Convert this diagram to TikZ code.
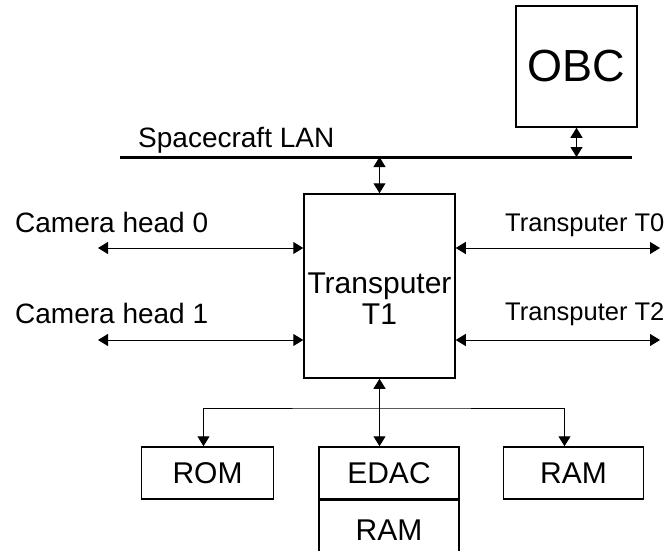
\documentclass[tikz,border=0pt]{standalone}
\usepackage{fontspec}
\setmainfont{Liberation Sans}
\usepackage{tikz}
\usetikzlibrary{positioning,arrows.meta}

\begin{document}
\begin{tikzpicture}[
  x=1pt, y=-1pt,
  font=\fontsize{30}{31}\selectfont,
  box/.style  ={draw, line width=1.5pt, inner sep=0pt, align=center,
                minimum width=140pt, minimum height=52pt},
  ar/.style   ={{Triangle[length=10pt,width=12pt]}-{Triangle[length=10pt,width=12pt]},
                line width=1pt},
  lan/.style  ={line width=3pt},
  lbl/.style  ={inner sep=0pt, anchor=base west, font=\fontsize{28}{30}\selectfont},
  lblT/.style ={lbl, font=\fontsize{25.5}{28}\selectfont},
]
\useasboundingbox (0,0) rectangle (670,551);

\node[box, minimum width=151pt, minimum height=184pt] (t1) at (379.5,286) {};
\node[align=center, inner sep=0pt, below=79pt of t1.north] (t1lbl) {Transputer\\T1};

\node[box, minimum width=121pt, minimum height=121pt,
      font=\fontsize{45}{46}\selectfont] (obc) at (576.5,66.5) {OBC};

\coordinate (lanW) at (120,157);
\coordinate (lanE) at (632,157);
\draw[lan] (lanW) -- (lanE);
\node[lbl] (lanlbl) at (138,147) {Spacecraft LAN};

\draw[ar] (obc.south) -- (obc.south |- lanE);
\draw[ar] (t1.north |- lanE) -- (t1.north);

\coordinate (cam0) at (98,248);
\coordinate (cam1) at (98,340);
\coordinate (tp0) at (660,248);
\coordinate (tp2) at (660,340);
\draw[ar] (cam0) -- (cam0 -| t1.west);
\draw[ar] (cam1) -- (cam1 -| t1.west);
\draw[ar] (t1.east |- tp0) -- (tp0);
\draw[ar] (t1.east |- tp2) -- (tp2);
\node[lbl] (cam0lbl) at (15,232) {Camera head 0};
\node[lbl] (cam1lbl) at (15,323) {Camera head 1};
\node[lblT] (tp0lbl) at (505,231) {Transputer T0};
\node[lblT] (tp2lbl) at (505,320) {Transputer T2};

\node[box] (edac) at (389,473) {EDAC};
\node[box, minimum height=60pt, below=0pt of edac] (eram) {RAM};
\node[box, minimum width=132pt, left=44pt of edac] (rom) {ROM};
\node[box, right=43pt of edac] (ram) {RAM};

\coordinate (bus) at (t1.south |- 0,408);
\draw[ar] (t1.south) -- (t1.south |- edac.north);
\draw[ar] ([xshift=-4pt]rom.north) |- (bus) -| ([xshift=-9pt]ram.north);

\end{tikzpicture}
\end{document}
